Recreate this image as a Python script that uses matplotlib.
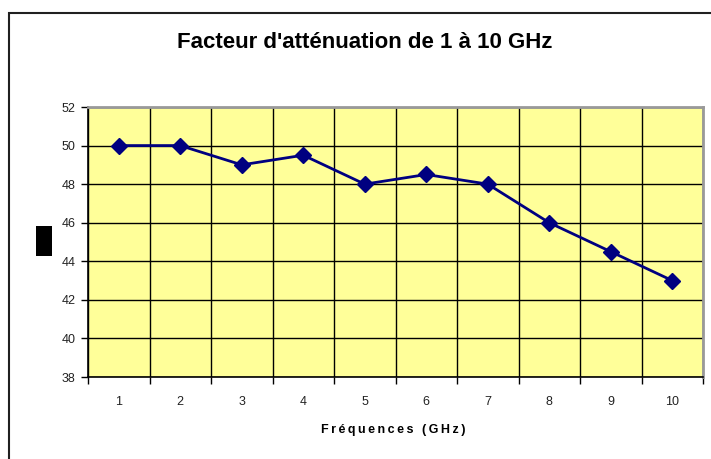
import matplotlib
matplotlib.use("Agg")
import matplotlib.pyplot as plt
from matplotlib.patches import Rectangle

categories = ["1", "2", "3", "4", "5", "6", "7", "8", "9", "10"]
values = [50, 50, 49, 49.5, 48, 48.5, 48, 46, 44.5, 43]
yticks = [38, 40, 42, 44, 46, 48, 50, 52]
title = "Facteur d'atténuation de 1 à 10 GHz"
xlabel = "Fréquences (GHz)"

plt.rcParams['font.family'] = ['Liberation Sans', 'DejaVu Sans']

W, H = 711, 459
fig = plt.figure(figsize=(W / 100, H / 100), dpi=100)

# outer chart border (extends beyond right/bottom edge)
fig.patches.append(Rectangle((9 / W, -0.1), 1.2, 1 - 13 / H + 0.1, transform=fig.transFigure,
                             fill=False, edgecolor='#202020', linewidth=1.5))
# redacted block at left
fig.patches.append(Rectangle((36 / W, 1 - 256 / H), 16 / W, 30 / H, transform=fig.transFigure,
                             facecolor='black', edgecolor='none'))

left, right, top, bottom = 88, 703, 107, 377
ax = fig.add_axes([left / W, 1 - bottom / H, (right - left) / W, (bottom - top) / H])
ax.set_facecolor('#FFFF99')

x = list(range(1, len(categories) + 1))
ax.plot(x, values, color='#000080', linewidth=2, marker='D', markersize=8.5,
        markerfacecolor='#000080', markeredgecolor='#000080', zorder=3)

ax.set_xlim(0.5, len(categories) + 0.5)
ax.set_ylim(38, 52)
ax.set_yticks(yticks)
ax.set_yticklabels([str(v) for v in yticks])
ax.set_xticks([i + 0.5 for i in range(0, len(categories) + 1)])
ax.set_xticklabels([])
ax.set_xticks(x, minor=True)
ax.set_xticklabels(categories, minor=True)
ax.tick_params(axis='x', which='minor', length=0, pad=14, labelsize=9, colors='#222222')
ax.tick_params(axis='x', which='major', length=5, width=1, direction='out', color='black')
ax.tick_params(axis='y', length=5, width=1, direction='out', labelsize=9, pad=4, color='black',
               labelcolor='#222222')

ax.grid(True, which='major', axis='both', color='black', linewidth=1)
ax.set_axisbelow(True)

for s in ['top', 'right']:
    ax.spines[s].set_color('#999999')
    ax.spines[s].set_linewidth(2)
for s in ['left', 'bottom']:
    ax.spines[s].set_color('black')
    ax.spines[s].set_linewidth(1.2)

fig.text(365 / W, 1 - 43 / H, title, ha='center', va='center', fontsize=16, fontweight='bold')
fig.text(393 / W, 1 - 430 / H, '\u2009'.join(xlabel), ha='center', va='center',
         fontsize=9, fontweight='bold')

fig.savefig('out.png', dpi=100)
